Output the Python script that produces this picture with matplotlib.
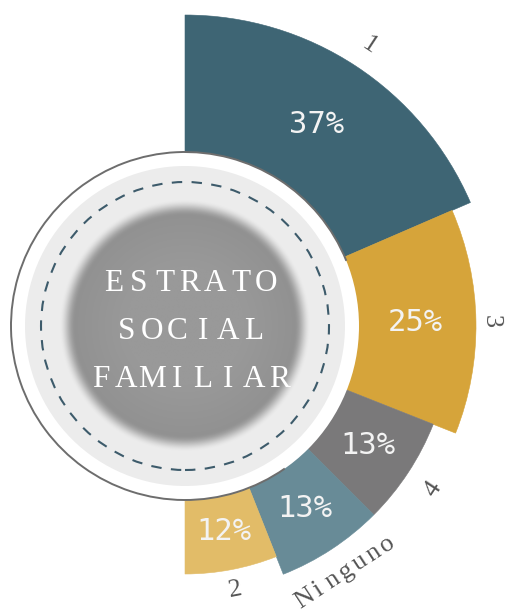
import numpy as np
import matplotlib.pyplot as plt
from matplotlib.patches import Circle, Arc

# Estrato social familiar: share of each group (half-rose, clockwise from the top)
categorias = ["1", "3", "4", "Ninguno", "2"]
porcentajes = [37, 25, 13, 13, 12]
colores = ["#3e6574", "#d6a43a", "#7a797a", "#688b97", "#e2bc68"]
radio_ext = [311, 291, 267, 267, 248]   # outer reach of each wedge, px

W, H = 505, 613
cx, cy = 185, H - 326      # centre of the rose, px from bottom-left
R = 345
r_int = 170                # wedges are hidden below this radius by the badge


def mono(axis, x, y, s, size, adv, rot=0, color="#555555", zorder=5):
    # typewriter look: serif glyphs laid out on a fixed advance
    em = size * 100 / 72
    t = np.radians(rot)
    ux, uy = np.cos(t), np.sin(t)
    vx, vy = -uy, ux
    bx, by = x - 0.33 * em * vx, y - 0.33 * em * vy
    n = len(s)
    for i, ch in enumerate(s):
        k = (i - (n - 1) / 2) * adv
        axis.text(bx + k * ux, by + k * uy, ch, rotation=rot,
                  rotation_mode="anchor", ha="center", va="baseline",
                  fontsize=size, family="Liberation Serif", color=color,
                  zorder=zorder, clip_on=False)


fig = plt.figure(figsize=(W / 100, H / 100), dpi=100)
caja = [(cx - R) / W, (cy - R) / H, 2 * R / W, 2 * R / H]

ax = fig.add_axes(caja, projection="polar")
ax.set_theta_zero_location("N")
ax.set_theta_direction(-1)
ax.set_rlim(0, R)
ax.axis("off")

anchos = np.array(porcentajes) / 100 * np.pi
inicio = np.concatenate([[0], np.cumsum(anchos)[:-1]])
centros = inicio + anchos / 2
ax.bar(centros, radio_ext, width=anchos, bottom=0, color=colores,
       edgecolor=colores, linewidth=0.4, align="center")

for th, r, p in zip(centros, radio_ext, porcentajes):
    ax.text(th, (r_int + r) / 2, f"{p}%", ha="center", va="center",
            color="#f3f3f3", fontsize=22, family="DejaVu Sans Mono", clip_on=False)

# central badge
ov = fig.add_axes(caja)
ov.add_patch(Circle((0, 0), 174, fc="white", ec="none", zorder=1))
ov.add_patch(Arc((0, 0), 348, 348, theta1=22, theta2=305,
                 color="#6d6d6d", lw=1.4, zorder=1))
ov.add_patch(Circle((0, 0), 160, fc="#ececec", ec="none", zorder=1))

n = 400
g = np.linspace(-135, 135, n)
X, Y = np.meshgrid(g, g)
d = np.hypot(X, Y)
a = np.clip((126 - d) / 16, 0, 1)
a = a * a * (3 - 2 * a)
tono = 0.60 - 0.035 * np.clip((d - 60) / 60, 0, 1)
img = np.zeros((n, n, 4))
img[..., 0] = tono
img[..., 1] = tono
img[..., 2] = tono
img[..., 3] = a
ov.imshow(img, extent=(-135, 135, -135, 135), origin="lower",
          interpolation="bilinear", zorder=2)

ov.add_patch(Circle((0, 0), 144, fill=False, ec="#3d5b6b", lw=1.5,
                    ls=(0, (5, 4.5)), zorder=3))
for dy, linea in zip([45, -3, -51], ["ESTRATO", "SOCIAL", "FAMILIAR"]):
    mono(ov, 5, dy, linea, 22.5, 25.5, color="white", zorder=4)

# category names just outside each wedge
for th, r, cat in zip(centros, radio_ext, categorias):
    phi = 90 - np.degrees(th)
    rot = phi - 90
    if rot < -90:
        rot += 180
    off = {"3": 18, "2": 18, "Ninguno": 24}.get(cat, 27)
    x = (r + off) * np.cos(np.radians(phi))
    y = (r + off) * np.sin(np.radians(phi))
    mono(ov, x, y, cat, 19, 16.5, rot=rot)

ov.set_xlim(-R, R)
ov.set_ylim(-R, R)
ov.set_aspect("auto")
ov.axis("off")

fig.savefig("out.png", dpi=100)
